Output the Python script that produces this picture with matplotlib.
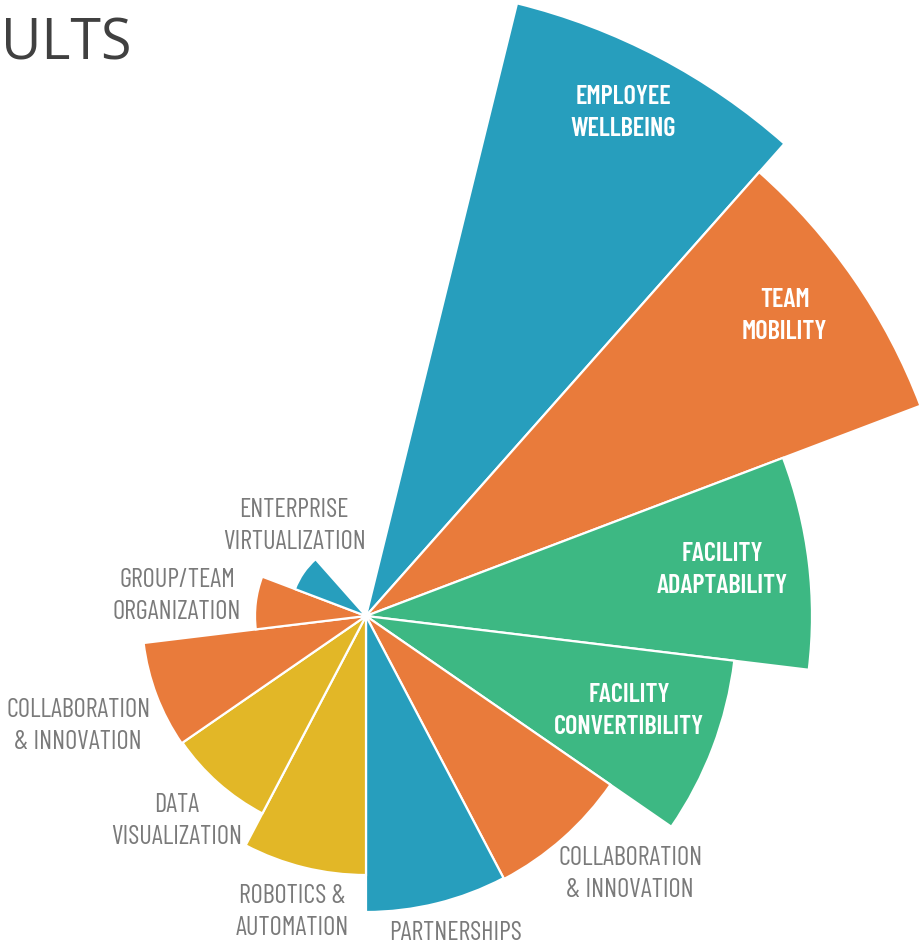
import numpy as np
import matplotlib
matplotlib.use("Agg")
import matplotlib.pyplot as plt

# rose segments, clockwise from the top
labels = ["EMPLOYEE\nWELLBEING", "TEAM\nMOBILITY", "FACILITY\nADAPTABILITY",
          "FACILITY\nCONVERTIBILITY", "COLLABORATION\n& INNOVATION", "PARTNERSHIPS",
          "ROBOTICS &\nAUTOMATION", "DATA\nVISUALIZATION", "COLLABORATION\n& INNOVATION",
          "GROUP/TEAM\nORGANIZATION", "ENTERPRISE\nVIRTUALIZATION"]
values = [631, 593, 446, 371, 297, 296, 259, 223, 224, 111, 76]
colors = ["#279EBD", "#E97B3B", "#3DB883", "#3DB883", "#E97B3B", "#279EBD",
          "#E2B727", "#E2B727", "#E97B3B", "#E97B3B", "#279EBD"]
# label anchor in polar terms (degrees clockwise from north, radius)
label_theta = [27.1, 54.4, 82.6, 109.9, 134.3, 164.3, 194.0, 222.8, 249.1, 276.0, 321.3]
label_r = [565, 515, 359, 280, 369, 329, 305, 279, 308, 190, 115]
label_inside = [True, True, True, True, False, False, False, False, False, False, False]

n_slots = 13
step = 2 * np.pi / n_slots
theta = np.arange(1, len(values) + 1) * step

W, H = 923, 946
cx, cy = 366, 616
rmax = 640

fig = plt.figure(figsize=(W / 100, H / 100), dpi=100)
ax = fig.add_axes([(cx - rmax) / W, (H - cy - rmax) / H, 2 * rmax / W, 2 * rmax / H],
                  projection="polar")
ax.set_theta_zero_location("N")
ax.set_theta_direction(-1)
ax.bar(theta, values, width=step, bottom=0, color=colors, edgecolor="white",
       linewidth=1.6, align="center")
ax.set_ylim(0, rmax)
ax.axis("off")

cond = ["Barlow Condensed", "Roboto", "DejaVu Sans"]
for lab, t, r, inside in zip(labels, label_theta, label_r, label_inside):
    ax.text(np.deg2rad(t), r, lab, ha="center", va="center", family=cond,
            fontsize=19, linespacing=1.42,
            color="white" if inside else "#7A7A7A",
            fontweight="semibold" if inside else "normal")

fig.text(1 / W, 1 - 60 / H, "ULTS", family=["Open Sans", "DejaVu Sans"],
         fontsize=40, color="#404040", va="baseline", ha="left")

fig.savefig("out.png", dpi=100)
